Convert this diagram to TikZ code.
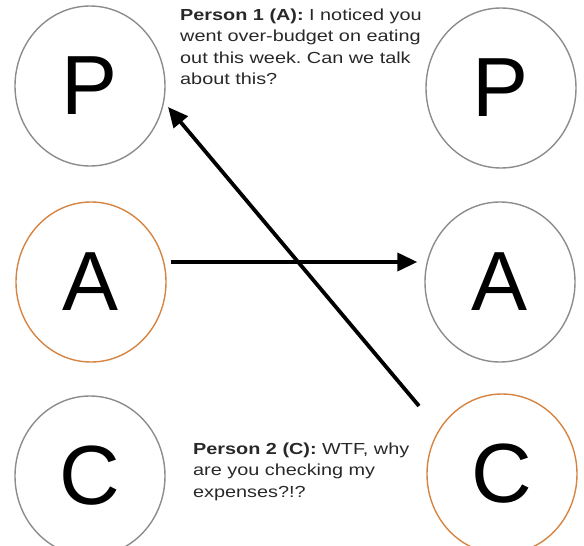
\documentclass[tikz,border=0pt]{standalone}
\usepackage{fontspec}
\setmainfont{Liberation Sans}
\newfontfamily\widefont[FakeStretch=1.24]{Liberation Sans}
\usetikzlibrary{arrows.meta,shapes.geometric}
\definecolor{ringgray}{RGB}{140,140,140}
\definecolor{ringorange}{RGB}{214,132,66}
\definecolor{txt}{RGB}{40,40,40}
\frenchspacing
\begin{document}
\begin{tikzpicture}[x=1pt,y=-1pt,
  ego/.style={ellipse, draw=ringgray, line width=1.4pt, minimum width=150pt, minimum height=160pt, inner sep=0pt, font=\fontsize{84}{84}\selectfont},
  active/.style={ego, draw=ringorange},
  msg/.style={font=\widefont\fontsize{16}{21.3}\selectfont, text=txt, align=left, inner sep=0pt, anchor=base west},
  conn/.style={line width=3.8pt, -{Triangle[length=20pt,width=18pt]}}]
\useasboundingbox (0,0) rectangle (584,546);
\node[ego]    (LP) at (90,86)   {P};
\node[active] (LA) at (91,282)  {A};
\node[ego]    (LC) at (90,476)  {C};
\node[ego]    (RP) at (501,88)  {P};
\node[ego]    (RA) at (500,282) {A};
\node[active] (RC) at (502,474) {C};
\node[msg] (m1) at (180,84.5) {\textbf{Person 1 (A):} I noticed you\\went over-budget on eating\\out this week. Can we talk\\about this?};
\node[msg] (m2) at (193,497) {\textbf{Person 2 (C):} WTF, why\\are you checking my\\expenses?!?};
\coordinate (d0) at (419,406);
\coordinate (d1) at (168,107);
\draw[conn] ([xshift=4pt,yshift=20pt]LA.east) -- ([xshift=-7pt,yshift=20pt]RA.west);
\draw[conn] (d0) -- (d1);
\end{tikzpicture}
\end{document}
